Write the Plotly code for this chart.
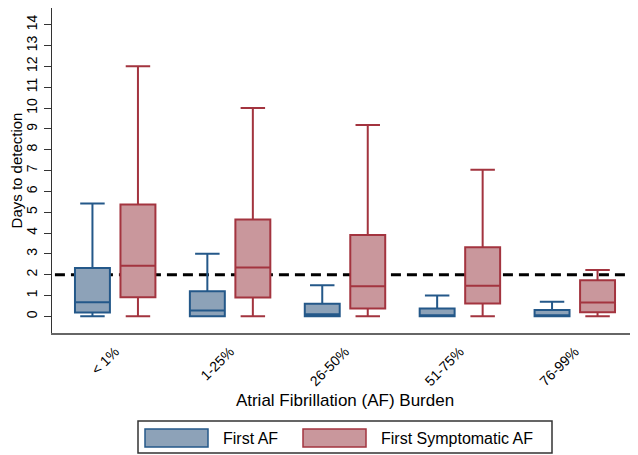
import plotly.graph_objects as go

categories = ["< 1%", "1-25%", "26-50%", "51-75%", "76-99%"]

first_af_low = [0, 0, 0, 0, 0]
first_af_q1 = [0.18, 0, 0, 0, 0]
first_af_med = [0.68, 0.28, 0.1, 0.02, 0.02]
first_af_q3 = [2.32, 1.2, 0.6, 0.38, 0.3]
first_af_high = [5.42, 3.0, 1.49, 1.0, 0.7]

sym_af_low = [0, 0, 0, 0, 0]
sym_af_q1 = [0.92, 0.9, 0.38, 0.62, 0.2]
sym_af_med = [2.43, 2.34, 1.44, 1.47, 0.67]
sym_af_q3 = [5.37, 4.65, 3.91, 3.32, 1.73]
sym_af_high = [12.0, 10.0, 9.18, 7.03, 2.22]

threshold = 2

FONT = "Arial, Liberation Sans, sans-serif"
BLUE_LINE = "#245889"
BLUE_FILL = "#8DA2B8"
RED_LINE = "#A3343F"
RED_FILL = "#C9979C"

# page body has an 8px margin; figure sized to fill the 638x455 window
PAGE_OFF = 8
FIG_W, FIG_H = 638 - PAGE_OFF, 455 - PAGE_OFF
M_L, M_R, M_T, M_B = 44, 0, 0, 122
PLOT_W = FIG_W - M_L - M_R
PLOT_H = FIG_H - M_T - M_B

fig = go.Figure()
fig.add_trace(go.Box(
    name="First AF", x=categories,
    q1=first_af_q1, median=first_af_med, q3=first_af_q3,
    lowerfence=first_af_low, upperfence=first_af_high,
    line=dict(color=BLUE_LINE, width=2), fillcolor=BLUE_FILL,
    whiskerwidth=0.7, showlegend=False, boxpoints=False,
))
fig.add_trace(go.Box(
    name="First Symptomatic AF", x=categories,
    q1=sym_af_q1, median=sym_af_med, q3=sym_af_q3,
    lowerfence=sym_af_low, upperfence=sym_af_high,
    line=dict(color=RED_LINE, width=2), fillcolor=RED_FILL,
    whiskerwidth=0.7, showlegend=False, boxpoints=False,
))

# threshold dashed line (behind boxes)
fig.add_shape(type="line", xref="paper", yref="y", x0=0.005, x1=0.995,
              y0=threshold, y1=threshold, layer="below",
              line=dict(color="black", width=3, dash="10px,6px"))

# custom legend, positions given in window pixels
def px_x(v):
    return (v - PAGE_OFF - M_L) / PLOT_W

def px_y(v):
    return (PAGE_OFF + M_T + PLOT_H - v) / PLOT_H

fig.add_shape(type="rect", xref="paper", yref="paper",
              x0=px_x(138), x1=px_x(552), y0=px_y(421), y1=px_y(453),
              line=dict(color="#333333", width=1.5), fillcolor="white")
fig.add_shape(type="rect", xref="paper", yref="paper",
              x0=px_x(145), x1=px_x(208), y0=px_y(429), y1=px_y(447),
              line=dict(color=BLUE_LINE, width=1.5), fillcolor=BLUE_FILL)
fig.add_shape(type="rect", xref="paper", yref="paper",
              x0=px_x(303), x1=px_x(366), y0=px_y(429), y1=px_y(447),
              line=dict(color=RED_LINE, width=1.5), fillcolor=RED_FILL)
fig.add_annotation(xref="paper", yref="paper", x=px_x(221), y=px_y(438),
                   text="First AF", showarrow=False, xanchor="left", yanchor="middle",
                   font=dict(family=FONT, size=16, color="black"))
fig.add_annotation(xref="paper", yref="paper", x=px_x(379), y=px_y(438),
                   text="First Symptomatic AF", showarrow=False, xanchor="left", yanchor="middle",
                   font=dict(family=FONT, size=16, color="black"))

fig.update_layout(
    width=FIG_W, height=FIG_H,
    margin=dict(l=M_L, r=M_R, t=M_T, b=M_B, pad=0),
    paper_bgcolor="white", plot_bgcolor="white",
    boxmode="group", boxgap=0.208, boxgroupgap=0.232,
    font=dict(family=FONT, color="black"),
    showlegend=False,
)
fig.update_xaxes(
    type="category", range=[-0.55, 4.55], automargin=False,
    showline=True, linecolor="#666666", linewidth=2,
    ticks="outside", ticklen=3, tickcolor="rgba(0,0,0,0)",
    tickangle=-45, tickfont=dict(size=14),
    showgrid=False, zeroline=False,
    title=dict(text="Atrial Fibrillation (AF) Burden", font=dict(size=17), standoff=6),
)
fig.update_yaxes(
    range=[-0.8, 14.8], dtick=1, tick0=0, automargin=False,
    showline=True, linecolor="#333333", linewidth=1,
    ticks="outside", ticklen=7, tickcolor="#333333",
    ticklabelstandoff=1,
    tickangle=-90, tickfont=dict(size=14),
    showgrid=False, zeroline=False,
    title=dict(text="Days to detection", font=dict(size=15), standoff=3),
)

fig.write_html("out.html")
